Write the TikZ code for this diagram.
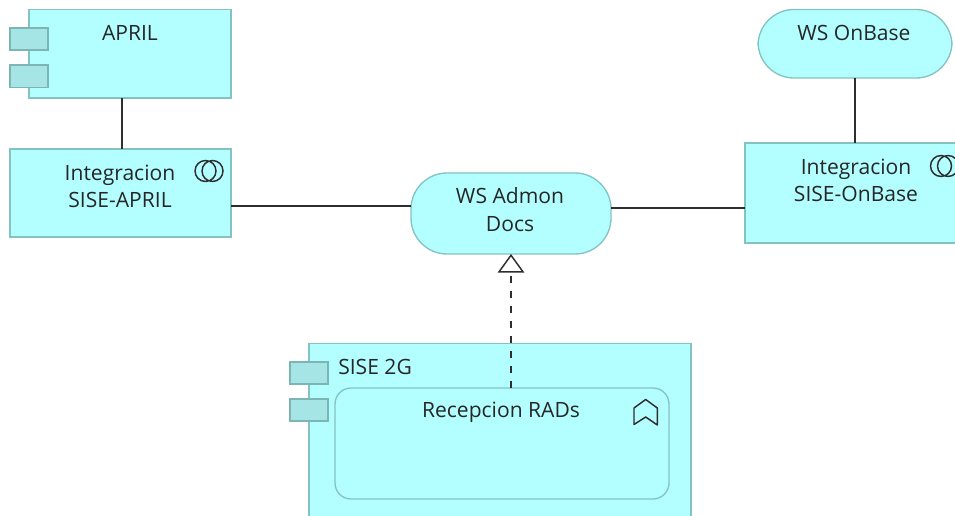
\documentclass[tikz,border=0pt]{standalone}
\usepackage{fontspec}
\setmainfont{Open Sans}
\usetikzlibrary{arrows.meta}
\definecolor{aqua}{HTML}{B3FFFF}
\definecolor{aquaedge}{HTML}{85C2C2}
\definecolor{tabfill}{HTML}{A5E5E5}
\definecolor{tabedge}{HTML}{7DB5B5}
\definecolor{linecol}{HTML}{2E2E2E}
\tikzset{
  x=0.75pt,y=-0.75pt,
  elem/.style={draw=aquaedge,fill=aqua,line width=1pt,inner sep=0pt,outer sep=0pt},
  tabbox/.style={draw=tabedge,fill=tabfill,line width=1pt},
  pill/.style={elem,rounded corners=27pt},
  inner/.style={elem,rounded corners=12pt},
  lbl/.style={font=\fontsize{15.8}{20.5}\selectfont,text=black!85,inner sep=0pt,align=center},
  conn/.style={draw=linecol,line width=1.25pt},
  icon/.style={draw=linecol,line width=1.1pt},
}
\newcommand{\boxat}[6]{\node[#1,minimum width=#4*0.75pt,minimum height=#5*0.75pt,anchor=north west] (#2) at #3 {};}
\begin{document}
\begin{tikzpicture}
\useasboundingbox (0,0) rectangle (955,516);
\clip (0,0) rectangle (955,516);
\fill[white] (0,0) rectangle (955,516);
% APRIL
\boxat{elem}{april}{(29,9.5)}{202}{88.5}{}
\draw[tabbox] (10,28) rectangle (48,50);
\draw[tabbox] (10,65) rectangle (48,87.5);
\node[lbl] (tapril) at (130,33) {APRIL};
% Integracion SISE-APRIL
\boxat{elem}{intapril}{(10,149)}{221}{88}{}
\node[lbl] (tintapril) at (120,186.5) {Integracion\\SISE-APRIL};
\draw[icon] (205.5,171) circle (10.5) (212.5,171) circle (10.5);
% WS Admon
\boxat{pill}{admon}{(411,173)}{200}{81}{}
\node[lbl] (tadmon) at (510,209.5) {WS Admon\\Docs};
% WS OnBase
\boxat{pill}{onbase}{(758,9.5)}{194}{68.5}{}
\node[lbl] (tonbase) at (854,33) {WS OnBase};
% Integracion SISE-OnBase
\boxat{elem}{intonbase}{(745,143)}{230}{100}{}
\node[lbl] (tintonbase) at (856,180.5) {Integracion\\SISE-OnBase};
\draw[icon] (941,166) circle (10.5) (948,166) circle (10.5);
% SISE 2G
\boxat{elem}{sise}{(309,343.5)}{382}{190}{}
\draw[tabbox] (290,362) rectangle (328,384);
\draw[tabbox] (290,399) rectangle (328,421);
\node[lbl,anchor=west] (tsise) at (338,367) {SISE 2G};
% Recepcion RADs
\boxat{inner}{rads}{(335,388)}{334}{111}{}
\node[lbl] (trads) at (501,412) {Recepcion RADs};
\draw[icon,line join=round] (634,424.5) -- (634,408) -- (645.7,399.5) -- (657.3,408) -- (657.3,425) -- (645.7,417) -- cycle;
% connectors
\coordinate (c1) at (122,0);
\coordinate (c2) at (0,206);
\coordinate (c3) at (0,208);
\draw[conn] (april.south -| c1) -- (intapril.north -| c1);
\draw[conn] (intapril.east |- c2) -- (admon.west |- c2);
\draw[conn] (admon.east |- c3) -- (intonbase.west |- c3);
\draw[conn] (onbase.south) -- (onbase.south |- intonbase.north);
\draw[conn,dash pattern=on 5pt off 6.25pt,
  -{Triangle[open,fill=white,length=14pt,width=20pt,line width=1.1pt]}]
  (rads.north -| admon.south) -- (admon.south);
\end{tikzpicture}
\end{document}
